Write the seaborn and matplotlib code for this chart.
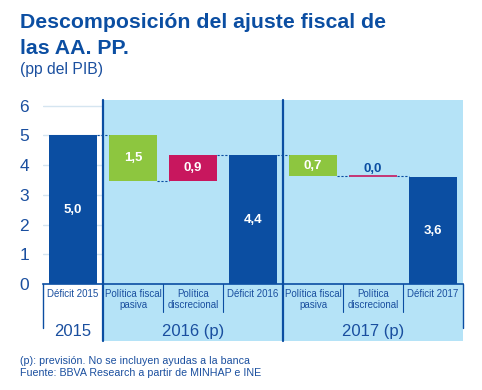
import numpy as np
import pandas as pd
import matplotlib
matplotlib.use("Agg")
import matplotlib.pyplot as plt
import matplotlib.transforms as mtransforms
from matplotlib.patches import Rectangle
import seaborn as sns

# data (pp del PIB)
categories = ["Déficit 2015", "Política fiscal\npasiva", "Política\ndiscrecional", "Déficit 2016",
              "Política fiscal\npasiva", "Política\ndiscrecional", "Déficit 2017"]
kinds = ["total", "change", "change", "total", "change", "change", "total"]
deficits = [5.0, 4.34, 3.6]
changes = [-1.52, 0.86, -0.71, 0.0]
value_labels = ["5,0", "1,5", "0,9", "4,4", "0,7", "0,0", "3,6"]
years = ["2015", "2016 (p)", "2017 (p)"]
year_counts = [1, 3, 3]
yticks = [0, 1, 2, 3, 4, 5, 6]

DARK = "#0b4ea2"
GREEN = "#8dc63f"
RED = "#c8175e"
LIGHT = "#b5e3f7"
GRID = "#d5e5f0"
TXT = "#1a4f9f"

# waterfall geometry
bottoms, heights, levels, colors = [], [], [], []
level = 0.0
d_i, c_i = iter(deficits), iter(changes)
for k in kinds:
    if k == "total":
        level = next(d_i)
        bottoms.append(0.0)
        heights.append(level)
        colors.append(DARK)
    else:
        c = next(c_i)
        new = level + c
        bottoms.append(min(level, new))
        heights.append(abs(c))
        colors.append(GREEN if c < 0 else RED)
        level = new
    levels.append(level)

df = pd.DataFrame({"pos": range(len(categories)), "height": heights, "bottom": bottoms})

sns.set_style("white")
plt.rcParams["font.family"] = ["Liberation Sans", "DejaVu Sans"]

fig = plt.figure(figsize=(4.82, 3.9), dpi=100)
ax = fig.add_axes([43 / 482, 106 / 390, 420 / 482, 184.2 / 390])

sns.barplot(data=df, x="pos", y="height", bottom=df["bottom"].values, width=0.8,
            color=DARK, saturation=1, errorbar=None, ax=ax, zorder=3)
bars = list(ax.patches)
for p, col, h in zip(bars, colors, heights):
    p.set_facecolor(col)
    if h == 0:
        p.set_edgecolor(col)
        p.set_linewidth(1.2)
    else:
        p.set_edgecolor("none")

ax.set_xlim(-0.5, len(categories) - 0.5)
ax.set_ylim(0, 6.2)
ax.set_yticks(yticks)
ax.set_xticks([])
ax.set_xlabel("")
ax.set_ylabel("")
ax.tick_params(axis="y", length=0, pad=10, labelsize=12.5, labelcolor=TXT)
for v in yticks[1:]:
    ax.axhline(v, color=GRID, lw=1.0, zorder=0.5)

for s in ["top", "right", "left"]:
    ax.spines[s].set_visible(False)
ax.spines["bottom"].set_color(DARK)
ax.spines["bottom"].set_linewidth(1.2)

trans = mtransforms.blended_transform_factory(ax.transData, ax.transAxes)

# shaded forecast area and year dividers
edges = np.cumsum([0] + year_counts) - 0.5
ax.add_patch(Rectangle((edges[1], -0.31), edges[-1] - edges[1], 1.31, transform=trans,
                       facecolor=LIGHT, edgecolor="none", clip_on=False, zorder=1))
for e in edges[1:-1]:
    ax.plot([e, e], [-0.31, 1.0], transform=trans, color=DARK, lw=1.6, clip_on=False, zorder=5)
for e in [edges[0], edges[-1]]:
    ax.plot([e, e], [0, -0.24], transform=trans, color=DARK, lw=1.0, clip_on=False, zorder=5)
for i in range(len(categories) - 1):
    b = i + 0.5
    if b not in edges:
        ax.plot([b, b], [0, -0.152], transform=trans, color=DARK, lw=0.8, clip_on=False, zorder=5)

# category labels and year labels
for i, c in enumerate(categories):
    ax.text(i, -0.027, c, transform=trans, ha="center", va="top", fontsize=7,
            color=TXT, linespacing=1.1, clip_on=False)
for y, lo, hi in zip(years, edges[:-1], edges[1:]):
    ax.text((lo + hi) / 2, -0.259, y, transform=trans, ha="center", va="center",
            fontsize=12, color=TXT, clip_on=False)

# connectors
for i in range(len(categories) - 1):
    ax.plot([i + 0.4, i + 0.6], [levels[i], levels[i]], color=DARK, lw=0.8,
            ls=(0, (2, 1.5)), zorder=4)

# value labels
for i, (b, h, lab) in enumerate(zip(bottoms, heights, value_labels)):
    if h == 0:
        ax.text(i, b + 0.05, lab, ha="center", va="bottom", fontsize=9.5,
                fontweight="bold", color=DARK, zorder=6)
    else:
        ax.text(i, b + h / 2, lab, ha="center", va="center", fontsize=9.5,
                fontweight="bold", color="white", zorder=6)

# titles and notes
fig.text(20 / 482, 1 - 27.5 / 390, "Descomposición del ajuste fiscal de", fontsize=15.3,
         fontweight="bold", color=DARK, va="baseline")
fig.text(20 / 482, 1 - 54 / 390, "las AA. PP.", fontsize=15.3,
         fontweight="bold", color=DARK, va="baseline")
fig.text(20 / 482, 1 - 74 / 390, "(pp del PIB)", fontsize=11.3, color=TXT, va="baseline")
fig.text(20 / 482, 1 - 363.5 / 390, "(p): previsión. No se incluyen ayudas a la banca",
         fontsize=7.7, color=TXT, va="baseline")
fig.text(20 / 482, 1 - 375.5 / 390, "Fuente: BBVA Research a partir de MINHAP e INE",
         fontsize=7.7, color=TXT, va="baseline")

fig.savefig("out.png", dpi=100)
